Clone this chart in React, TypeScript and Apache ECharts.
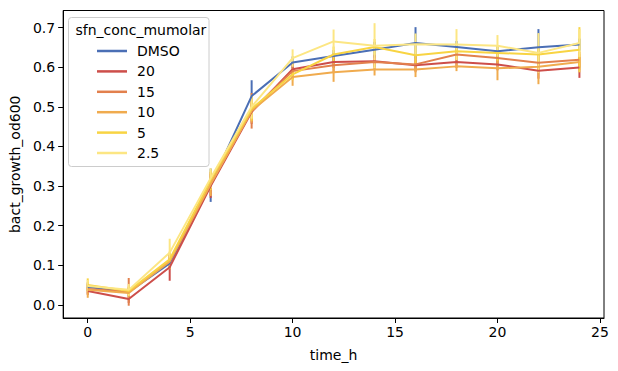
import React, { useEffect, useRef } from "react";
import * as echarts from "echarts";

const timeH = [0, 2, 4, 6, 8, 10, 12, 14, 16, 18, 20, 22, 24];
const groupNames = ["DMSO", "20", "15", "10", "5", "2.5"];
const groupColors = ["#4b6fb5", "#cd4e4a", "#e2804d", "#f0ab4e", "#f8d443", "#fce683"];

const dmsoMean = [0.045, 0.033, 0.105, 0.302, 0.527, 0.612, 0.628, 0.644, 0.661, 0.651, 0.64, 0.65, 0.657];
const c20Mean = [0.035, 0.015, 0.095, 0.3, 0.487, 0.595, 0.613, 0.615, 0.605, 0.613, 0.607, 0.591, 0.599];
const c15Mean = [0.04, 0.033, 0.11, 0.305, 0.49, 0.59, 0.605, 0.613, 0.607, 0.632, 0.623, 0.611, 0.619];
const c10Mean = [0.038, 0.03, 0.11, 0.305, 0.49, 0.575, 0.587, 0.594, 0.594, 0.602, 0.597, 0.601, 0.613];
const c5Mean = [0.05, 0.035, 0.115, 0.315, 0.495, 0.582, 0.632, 0.651, 0.63, 0.64, 0.636, 0.632, 0.644];
const c25Mean = [0.048, 0.038, 0.132, 0.32, 0.5, 0.623, 0.665, 0.654, 0.658, 0.657, 0.654, 0.636, 0.661];

const dmsoErr = [0.01, 0.01, 0.015, 0.042, 0.04, 0.015, 0.015, 0.02, 0.04, 0.015, 0.015, 0.046, 0.015];
const c20Err = [0.01, 0.01, 0.034, 0.03, 0.03, 0.015, 0.015, 0.015, 0.015, 0.015, 0.015, 0.02, 0.026];
const c15Err = [0.012, 0.035, 0.02, 0.03, 0.045, 0.02, 0.02, 0.02, 0.02, 0.02, 0.02, 0.02, 0.02];
const c10Err = [0.02, 0.015, 0.02, 0.03, 0.03, 0.022, 0.024, 0.015, 0.019, 0.012, 0.03, 0.044, 0.02];
const c5Err = [0.017, 0.012, 0.02, 0.025, 0.03, 0.015, 0.02, 0.02, 0.02, 0.02, 0.02, 0.02, 0.057];
const c25Err = [0.015, 0.015, 0.035, 0.025, 0.03, 0.022, 0.03, 0.057, 0.027, 0.039, 0.027, 0.05, 0.035];

const means = [dmsoMean, c20Mean, c15Mean, c10Mean, c5Mean, c25Mean];
const errs = [dmsoErr, c20Err, c15Err, c10Err, c5Err, c25Err];

const xTicks = [0, 5, 10, 15, 20, 25];
const yTicks = [0, 0.1, 0.2, 0.3, 0.4, 0.5, 0.6, 0.7];

const FONT = "DejaVu Sans";

export default function App() {
  const ref = useRef<HTMLDivElement>(null);
  useEffect(() => {
    if (!ref.current) return;
    const chart = echarts.init(ref.current, null, { renderer: "svg" });
    const series: any[] = [];
    groupNames.forEach((name, gi) => {
      const color = groupColors[gi];
      series.push({
        type: "line",
        name,
        data: timeH.map((t, i) => [t, means[gi][i]]),
        symbol: "none",
        lineStyle: { color, width: 2 },
        itemStyle: { color },
        emphasis: { disabled: true },
      });
      series.push({
        type: "custom",
        name: name + " err",
        data: timeH.map((t, i) => [t, means[gi][i] - errs[gi][i], means[gi][i] + errs[gi][i]]),
        encode: { x: 0, y: [1, 2] },
        renderItem: (params: any, api: any) => {
          const x = api.value(0);
          const p1 = api.coord([x, api.value(1)]);
          const p2 = api.coord([x, api.value(2)]);
          return {
            type: "line",
            shape: { x1: p1[0], y1: p1[1], x2: p2[0], y2: p2[1] },
            style: { stroke: color, lineWidth: 2 },
          };
        },
      });
    });

    chart.setOption({
      animation: false,
      backgroundColor: "#ffffff",
      textStyle: { fontFamily: FONT },
      grid: {
        left: 61.5,
        top: 10.5,
        right: 14,
        bottom: 53,
        show: true,
        borderColor: "#000",
        borderWidth: 1,
        backgroundColor: "transparent",
      },
      xAxis: {
        type: "value",
        min: -1.2,
        max: 25.2,
        name: "time_h",
        nameLocation: "middle",
        nameGap: 30,
        nameTextStyle: { fontSize: 14, color: "#000", fontFamily: FONT },
        axisLine: { show: true, onZero: false, lineStyle: { color: "#000", width: 1 } },
        axisTick: { show: true, length: 5, lineStyle: { color: "#000" }, customValues: xTicks },
        axisLabel: {
          fontSize: 14,
          color: "#000",
          fontFamily: FONT,
          margin: 7,
          customValues: xTicks,
          formatter: (v: number) => String(v),
        },
        splitLine: { show: false },
      },
      yAxis: {
        type: "value",
        min: -0.033,
        max: 0.743,
        name: "bact_growth_od600",
        nameLocation: "middle",
        nameGap: 38,
        nameTextStyle: { fontSize: 14, color: "#000", fontFamily: FONT },
        axisLine: { show: true, onZero: false, lineStyle: { color: "#000", width: 1 } },
        axisTick: { show: true, length: 5, lineStyle: { color: "#000" }, customValues: yTicks },
        axisLabel: {
          fontSize: 14,
          color: "#000",
          fontFamily: FONT,
          margin: 8,
          customValues: yTicks,
          formatter: (v: number) => v.toFixed(1),
        },
        splitLine: { show: false },
      },
      legend: {
        data: groupNames,
        orient: "vertical",
        left: 97,
        top: 43,
        padding: 0,
        itemWidth: 30,
        itemHeight: 2.5,
        itemGap: 4.4,
        icon: "rect",
        z: 20,
        selectedMode: false,
        textStyle: {
          fontSize: 14,
          color: "#000",
          fontFamily: FONT,
          lineHeight: 16,
          padding: [0, 0, 0, 5],
        },
      },
      graphic: [
        {
          type: "rect",
          z: 10,
          shape: { x: 68.5, y: 17.5, width: 140.5, height: 149, r: 3 },
          style: { fill: "rgba(255,255,255,0.8)", stroke: "#cccccc", lineWidth: 1 },
        },
        {
          type: "text",
          z: 11,
          x: 75.5,
          y: 29.5,
          style: {
            text: "sfn_conc_mumolar",
            fontSize: 14,
            fontFamily: FONT,
            fill: "#000",
            verticalAlign: "middle",
          },
        },
      ],
      series,
    });
    return () => chart.dispose();
  }, []);
  return (
    <div
      ref={ref}
      style={{ position: "fixed", left: 0, top: 0, width: 618, height: 371, background: "#fff" }}
    />
  );
}
